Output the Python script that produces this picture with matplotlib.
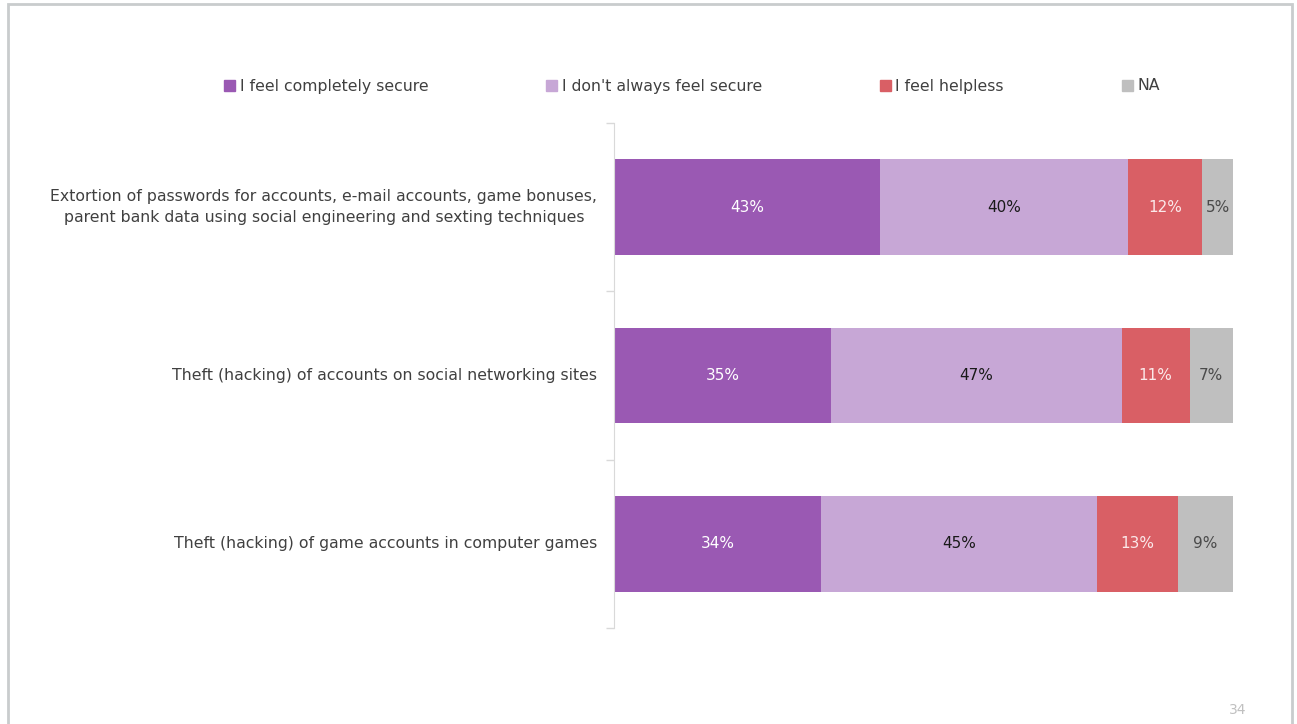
import numpy as np
import matplotlib.pyplot as plt
from matplotlib.patches import Rectangle, Patch

# survey answers, percent of respondents per threat
categories = [
    "Extortion of passwords for accounts, e-mail accounts, game bonuses,\n"
    "parent bank data using social engineering and sexting techniques",
    "Theft (hacking) of accounts on social networking sites",
    "Theft (hacking) of game accounts in computer games",
]
series = ["I feel completely secure", "I don't always feel secure",
          "I feel helpless", "NA"]
secure = [43.0, 35.0, 33.5]
not_always = [40.0, 47.0, 44.6]
helpless = [12.0, 11.0, 13.0]
na = [5.0, 7.0, 8.9]

colors = ["#9a59b3", "#c7a7d6", "#d95f65", "#bfbfbf"]
text_colors = ["white", "#1a1a1a", "#fbe9ea", "#4a4a4a"]

plt.rcParams["font.family"] = "DejaVu Sans"

W, H = 1297, 724
fig = plt.figure(figsize=(W / 100, H / 100), dpi=100)

# slide frame
fig.patches.append(Rectangle((8 / W, -0.02), (1292 - 8) / W, 1 - 4 / H + 0.02,
                             transform=fig.transFigure, fill=False,
                             edgecolor="#c9cccd", lw=2))

ax = fig.add_axes([614 / W, 96 / H, 619 / W, 505 / H])

y = np.arange(len(categories))
left = np.zeros(len(categories))
for vals, name, c, tc in zip([secure, not_always, helpless, na], series,
                             colors, text_colors):
    bars = ax.barh(y, vals, left=left, height=0.57, color=c, label=name)
    ax.bar_label(bars, labels=[f"{v:.0f}%" for v in vals], label_type="center",
                 color=tc, fontsize=11)
    left += np.array(vals)

ax.set_xlim(0, 100)
ax.set_ylim(2.5, -0.5)
ax.set_xticks([])
ax.set_yticks(y)
ax.set_yticklabels(categories, fontsize=11.3, color="#404040",
                   multialignment="center", linespacing=1.5, va="center")
ax.set_yticks([-0.5, 0.5, 1.5, 2.5], minor=True)
ax.tick_params(axis="y", which="major", length=0, pad=12)
ax.tick_params(axis="y", which="minor", length=6, color="#d9d9d9", width=1)
for s in ["top", "right", "bottom"]:
    ax.spines[s].set_visible(False)
ax.spines["left"].set_color("#d9d9d9")

handles = [Patch(color=c) for c in colors]
fig.legend(handles, series, loc="center", bbox_to_anchor=(692 / W, 1 - 86 / H),
           ncol=4, frameon=False, fontsize=11.3, handlelength=0.7,
           handleheight=0.7, handletextpad=0.3, columnspacing=7.5,
           labelcolor="#404040")

fig.text(1238 / W, 1 - 710 / H, "34", color="#c0c0c0", fontsize=10,
         ha="center", va="center")

fig.savefig("out.png", dpi=100)
